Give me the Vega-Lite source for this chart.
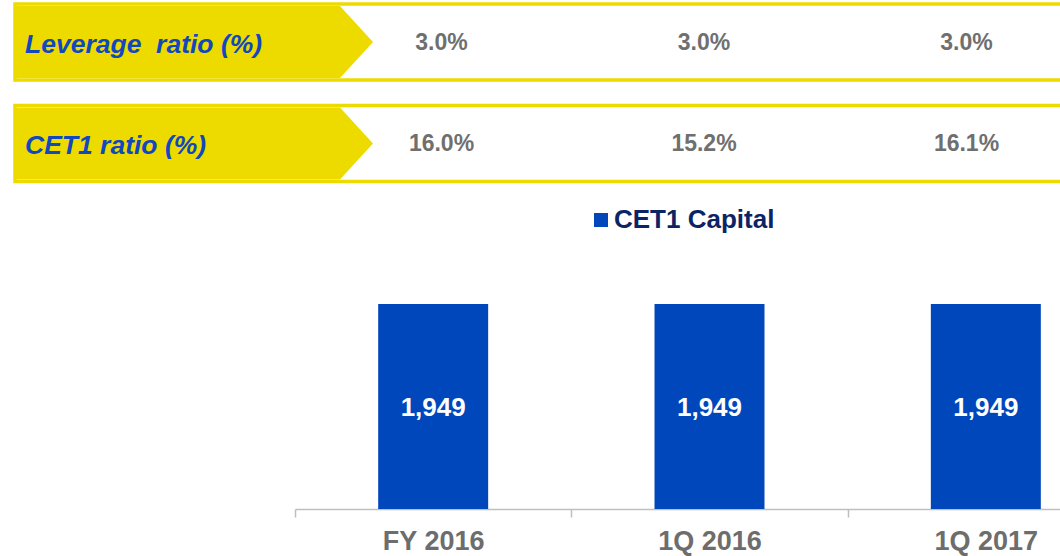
{
  "$schema": "https://vega.github.io/schema/vega-lite/v6.json",
  "width": 1060,
  "height": 509,
  "autosize": {"type": "none"},
  "padding": {"left": 0, "top": 0, "right": 0, "bottom": 47},
  "background": "white",
  "config": {"view": {"stroke": null}, "font": "Liberation Sans"},
  "datasets": {
    "capital": [
      {"period": "FY 2016", "series": "CET1 Capital", "value": 1949},
      {"period": "1Q 2016", "series": "CET1 Capital", "value": 1949},
      {"period": "1Q 2017", "series": "CET1 Capital", "value": 1949}
    ],
    "ratios": [
      {"metric": "Leverage  ratio (%)", "period": "FY 2016", "ratio": 0.030},
      {"metric": "Leverage  ratio (%)", "period": "1Q 2016", "ratio": 0.030},
      {"metric": "Leverage  ratio (%)", "period": "1Q 2017", "ratio": 0.030},
      {"metric": "CET1 ratio (%)", "period": "FY 2016", "ratio": 0.160},
      {"metric": "CET1 ratio (%)", "period": "1Q 2016", "ratio": 0.152},
      {"metric": "CET1 ratio (%)", "period": "1Q 2017", "ratio": 0.161}
    ],
    "metrics": [
      {"metric": "Leverage  ratio (%)", "name": "Leverage \u00a0ratio (%)", "col": "label"},
      {"metric": "CET1 ratio (%)", "name": "CET1 ratio (%)", "col": "label"}
    ]
  },
  "layer": [
    {
      "data": {"name": "metrics"},
      "encoding": {
        "y": {
          "field": "metric", "type": "nominal",
          "scale": {"type": "band", "domain": ["Leverage  ratio (%)", "CET1 ratio (%)"], "range": [4, 181.5], "paddingInner": 0.2512, "paddingOuter": 0},
          "axis": null
        },
        "x": {
          "field": "col", "type": "nominal",
          "scale": {"type": "band", "domain": ["label"], "range": [15, 373], "paddingInner": 0, "paddingOuter": 0},
          "axis": null
        }
      },
      "layer": [
        {
          "mark": {"type": "bar", "fill": "white", "stroke": "#EDDB00", "strokeWidth": 3.5},
          "encoding": {
            "x": {"field": "col", "type": "nominal", "bandPosition": 0},
            "x2": {"value": {"expr": "width + 6"}}
          }
        },
        {
          "mark": {"type": "point", "shape": "M-1.79,-0.36L1.46,-0.36L1.79,0L1.46,0.36L-1.79,0.36Z", "size": 40000, "filled": true, "fill": "#EDDB00", "opacity": 1, "strokeWidth": 0}
        },
        {
          "mark": {"type": "text", "align": "left", "baseline": "middle", "fontSize": 26.5, "fontWeight": "bold", "fontStyle": "italic", "color": "#1147BF", "dx": 10, "dy": 3},
          "encoding": {
            "x": {"field": "col", "type": "nominal", "bandPosition": 0},
            "text": {"field": "name"}
          }
        }
      ]
    },
    {
      "data": {"name": "ratios"},
      "mark": {"type": "text", "align": "center", "baseline": "middle", "fontSize": 23, "fontWeight": "bold", "color": "#6F6F6F", "dy": 1},
      "encoding": {
        "x": {
          "field": "period", "type": "nominal",
          "scale": {"type": "band", "domain": ["FY 2016", "1Q 2016", "1Q 2017"], "range": [310.25, 1097.75], "paddingInner": 0, "paddingOuter": 0},
          "axis": null
        },
        "y": {
          "field": "metric", "type": "nominal",
          "scale": {"type": "band", "domain": ["Leverage  ratio (%)", "CET1 ratio (%)"], "range": [4, 181.5], "paddingInner": 0.2512, "paddingOuter": 0},
          "axis": null
        },
        "text": {"field": "ratio", "type": "quantitative", "format": ".1%"}
      }
    },
    {
      "data": {"name": "capital"},
      "encoding": {
        "x": {
          "field": "period", "type": "nominal",
          "scale": {"type": "band", "domain": ["FY 2016", "1Q 2016", "1Q 2017"], "range": [295, 1124], "paddingInner": 0, "paddingOuter": 0},
          "axis": {
            "title": null, "labelAngle": 0, "grid": false,
            "domain": true, "domainColor": "#BFBFBF", "domainWidth": 1.5,
            "ticks": true, "tickBand": "extent", "tickColor": "#BFBFBF", "tickWidth": 1.5, "tickSize": 8,
            "labelFont": "Liberation Sans", "labelFontSize": 27, "labelFontWeight": "bold", "labelColor": "#6D6D6D", "labelPadding": 11
          }
        },
        "y": {
          "field": "value", "type": "quantitative",
          "scale": {"domain": [0, 4839], "nice": false, "zero": true},
          "axis": null
        }
      },
      "layer": [
        {
          "mark": {"type": "bar", "width": {"band": 0.398}},
          "encoding": {
            "color": {
              "field": "series", "type": "nominal",
              "scale": {"range": ["#0047BB"]},
              "legend": {
                "orient": "none", "legendX": 588, "legendY": 207, "title": null, "padding": 0,
                "symbolType": "square", "symbolSize": 196, "symbolStrokeWidth": 0,
                "labelFont": "Liberation Sans", "labelFontSize": 26, "labelFontWeight": "bold", "labelColor": "#0B2466", "labelOffset": 0, "labelLimit": 400
              }
            }
          }
        },
        {
          "mark": {"type": "text", "color": "white", "fontSize": 26, "fontWeight": "bold", "baseline": "alphabetic", "dy": 112},
          "encoding": {
            "text": {"field": "value", "type": "quantitative", "format": ","}
          }
        }
      ]
    }
  ],
  "resolve": {"scale": {"x": "independent", "y": "independent", "color": "independent"}}
}
